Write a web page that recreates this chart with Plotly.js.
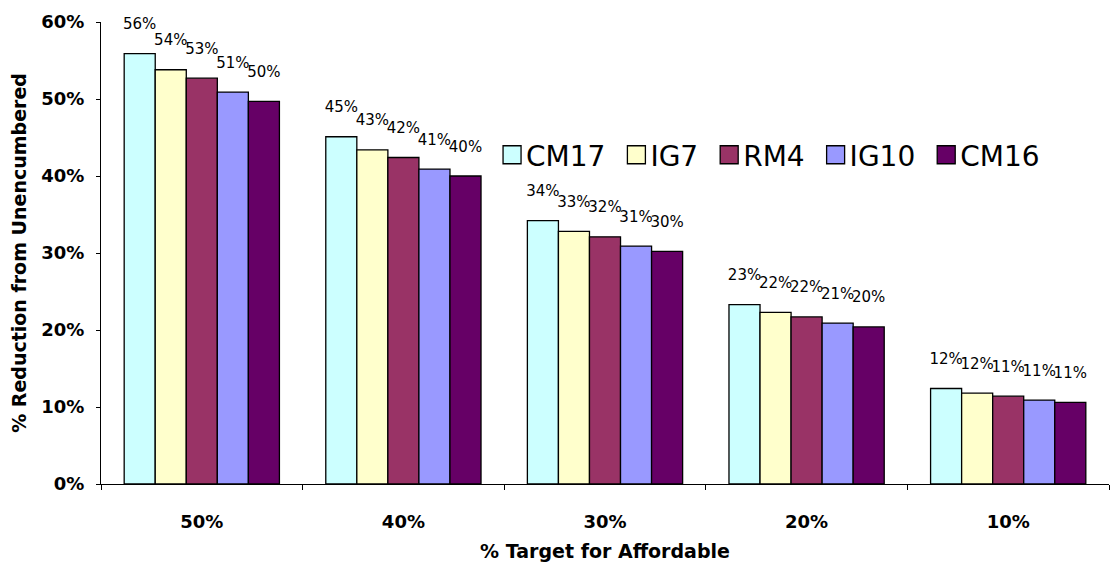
<!DOCTYPE html>
<html>
<head>
<meta charset="utf-8">
<script src="https://cdn.plot.ly/plotly-3.0.1.min.js"></script>
<style>
  html, body { margin: 0; padding: 0; background: #ffffff; }
  #chart { width: 1114px; height: 563px; }
</style>
</head>
<body>
<div id="chart"></div>
<script>
// Categories (x axis)
var categories = ["50%", "40%", "30%", "20%", "10%"];

// Series names and values (% reduction from unencumbered)
var seriesNames = ["CM17", "IG7", "RM4", "IG10", "CM16"];
var CM17 = [55.9, 45.1, 34.2, 23.3, 12.4];
var IG7  = [53.8, 43.4, 32.8, 22.3, 11.8];
var RM4  = [52.7, 42.4, 32.1, 21.7, 11.4];
var IG10 = [50.9, 40.9, 30.9, 20.9, 10.9];
var CM16 = [49.7, 40.0, 30.2, 20.4, 10.6];

var seriesValues = [CM17, IG7, RM4, IG10, CM16];
var seriesColors = ["#CCFFFF", "#FFFFCC", "#993366", "#9999FF", "#660066"];

var FONT = "DejaVu Sans, Arial, sans-serif";

var traces = seriesNames.map(function (name, i) {
  var vals = seriesValues[i];
  return {
    type: "bar",
    name: name,
    x: categories,
    y: vals,
    text: vals.map(function (v) {
      return Math.round(v) + "%<br><span style='font-size:7px'> </span>";
    }),
    textposition: "outside",
    constraintext: "none",
    cliponaxis: false,
    textfont: { family: FONT, size: 15, color: "#000000" },
    marker: { color: seriesColors[i], line: { color: "#000000", width: 1.3 } },
    hoverinfo: "skip"
  };
});

var layout = {
  width: 1114,
  height: 563,
  margin: { l: 101, r: 5, t: 22, b: 79 },
  paper_bgcolor: "#ffffff",
  plot_bgcolor: "#ffffff",
  barmode: "group",
  bargap: 0.23,
  bargroupgap: 0,
  showlegend: true,
  legend: {
    orientation: "h",
    x: 0.382,
    xanchor: "left",
    y: 0.712,
    yanchor: "middle",
    bgcolor: "rgba(0,0,0,0)",
    font: { family: FONT, size: 28, color: "#000000" },
    itemclick: false,
    itemdoubleclick: false
  },
  xaxis: {
    type: "category",
    showline: true,
    linecolor: "#000000",
    linewidth: 1,
    ticks: "outside",
    tickson: "boundaries",
    ticklen: 5,
    tickcolor: "#000000",
    ticklabelstandoff: 21,
    tickfont: { family: FONT, size: 18, color: "#000000", weight: "bold" },
    showgrid: false,
    zeroline: false,
    title: {
      text: "% Target for Affordable",
      font: { family: FONT, size: 19, color: "#000000", weight: "bold" },
      standoff: 14
    }
  },
  yaxis: {
    range: [0, 60],
    dtick: 10,
    ticksuffix: "%",
    showline: true,
    linecolor: "#000000",
    linewidth: 1,
    ticks: "outside",
    ticklen: 4,
    tickcolor: "#000000",
    ticklabelstandoff: 8,
    tickfont: { family: FONT, size: 18, color: "#000000", weight: "bold" },
    showgrid: false,
    zeroline: false,
    title: {
      text: "% Reduction from Unencumbered",
      font: { family: FONT, size: 19, color: "#000000", weight: "bold" },
      standoff: 9
    }
  }
};

Plotly.newPlot("chart", traces, layout, { displayModeBar: false, staticPlot: true }).then(function () {
  // enlarge legend swatches to match reference
  var paths = document.querySelectorAll(".legend .legendpoints path");
  paths.forEach(function (p) { p.setAttribute("d", "M15,9H-3V-9H15Z"); });
});
</script>
</body>
</html>
